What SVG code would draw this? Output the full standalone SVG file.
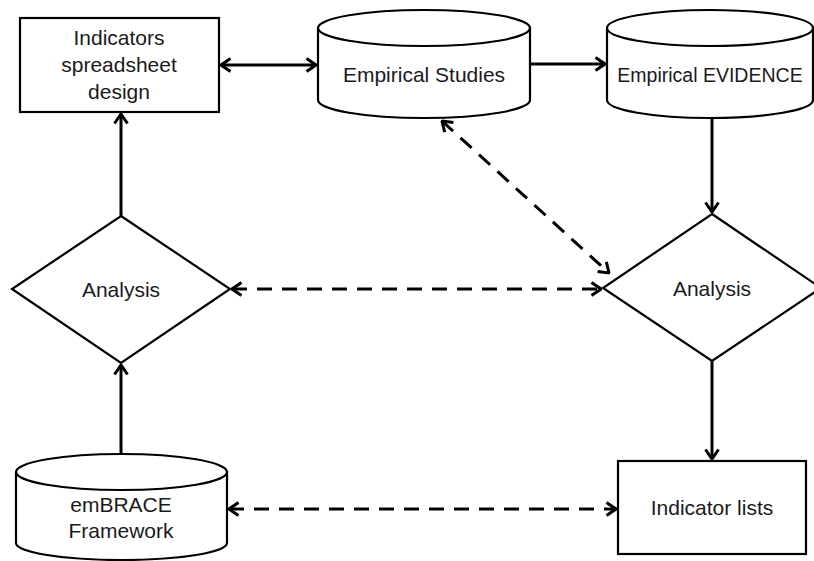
<svg xmlns="http://www.w3.org/2000/svg" width="814" height="561" viewBox="0 0 814 561">
<style>
.shape{fill:#fff;stroke:#000;stroke-width:2.2}
.conn{fill:none;stroke:#000;stroke-width:3}
.dash{stroke-dasharray:15 10}
text{font-family:"Liberation Sans",Arial,sans-serif;font-size:21px;fill:#1a1a1a;text-anchor:middle}
</style>
<defs>
<marker id="ah" viewBox="0 0 12 16" refX="11" refY="8" markerWidth="12" markerHeight="16" markerUnits="userSpaceOnUse" orient="auto-start-reverse">
<path d="M1.5,1.5 L11,8 L1.5,14.5" fill="none" stroke="#000" stroke-width="3"/>
</marker>
</defs>
<rect width="814" height="561" fill="#fff"/>
<g id="connectors">
<line class="conn" x1="221" y1="65" x2="316" y2="65" marker-start="url(#ah)" marker-end="url(#ah)"/>
<line class="conn" x1="530" y1="64" x2="605" y2="64" marker-end="url(#ah)"/>
<line class="conn" x1="712" y1="118" x2="712" y2="212" marker-end="url(#ah)"/>
<line class="conn" x1="121" y1="216" x2="121" y2="114" marker-end="url(#ah)"/>
<line class="conn" x1="121" y1="454" x2="121" y2="365" marker-end="url(#ah)"/>
<line class="conn" x1="712" y1="361" x2="712" y2="459" marker-end="url(#ah)"/>
<line class="conn dash" x1="232" y1="289" x2="601" y2="289" marker-start="url(#ah)" marker-end="url(#ah)"/>
<line class="conn dash" x1="442" y1="121" x2="609" y2="273" marker-start="url(#ah)" marker-end="url(#ah)"/>
<line class="conn dash" x1="229" y1="509" x2="616" y2="509" marker-start="url(#ah)" marker-end="url(#ah)"/>
</g>
<g id="spreadsheet-design">
<rect class="shape" x="20" y="18" width="199" height="94"/>
<text x="119" y="45">Indicators</text>
<text x="119" y="72">spreadsheet</text>
<text x="119" y="99">design</text>
</g>
<g id="empirical-studies">
<path class="shape" d="M318,28 L318,100 A106,18 0 0 0 530,100 L530,28"/>
<ellipse class="shape" cx="424" cy="28" rx="106" ry="18"/>
<text x="424" y="82">Empirical Studies</text>
</g>
<g id="empirical-evidence">
<path class="shape" d="M607,28 L607,100 A103,18 0 0 0 813,100 L813,28"/>
<ellipse class="shape" cx="710" cy="28" rx="103" ry="18"/>
<text x="710" y="82" style="font-size:19.5px">Empirical EVIDENCE</text>
</g>
<g id="analysis-left">
<polygon class="shape" points="121,216 230,289 121,363 12,289"/>
<text x="121" y="297">Analysis</text>
</g>
<g id="analysis-right">
<polygon class="shape" points="712,214 821,288 712,361 603,288"/>
<text x="712" y="296">Analysis</text>
</g>
<g id="embrace-framework">
<path class="shape" d="M16,472 L16,543 A105.5,17 0 0 0 227,543 L227,472"/>
<ellipse class="shape" cx="121.5" cy="472" rx="105.5" ry="18"/>
<text x="121" y="512">emBRACE</text>
<text x="121" y="538">Framework</text>
</g>
<g id="indicator-lists">
<rect class="shape" x="618" y="461" width="188" height="93"/>
<text x="712" y="515">Indicator lists</text>
</g>
</svg>
